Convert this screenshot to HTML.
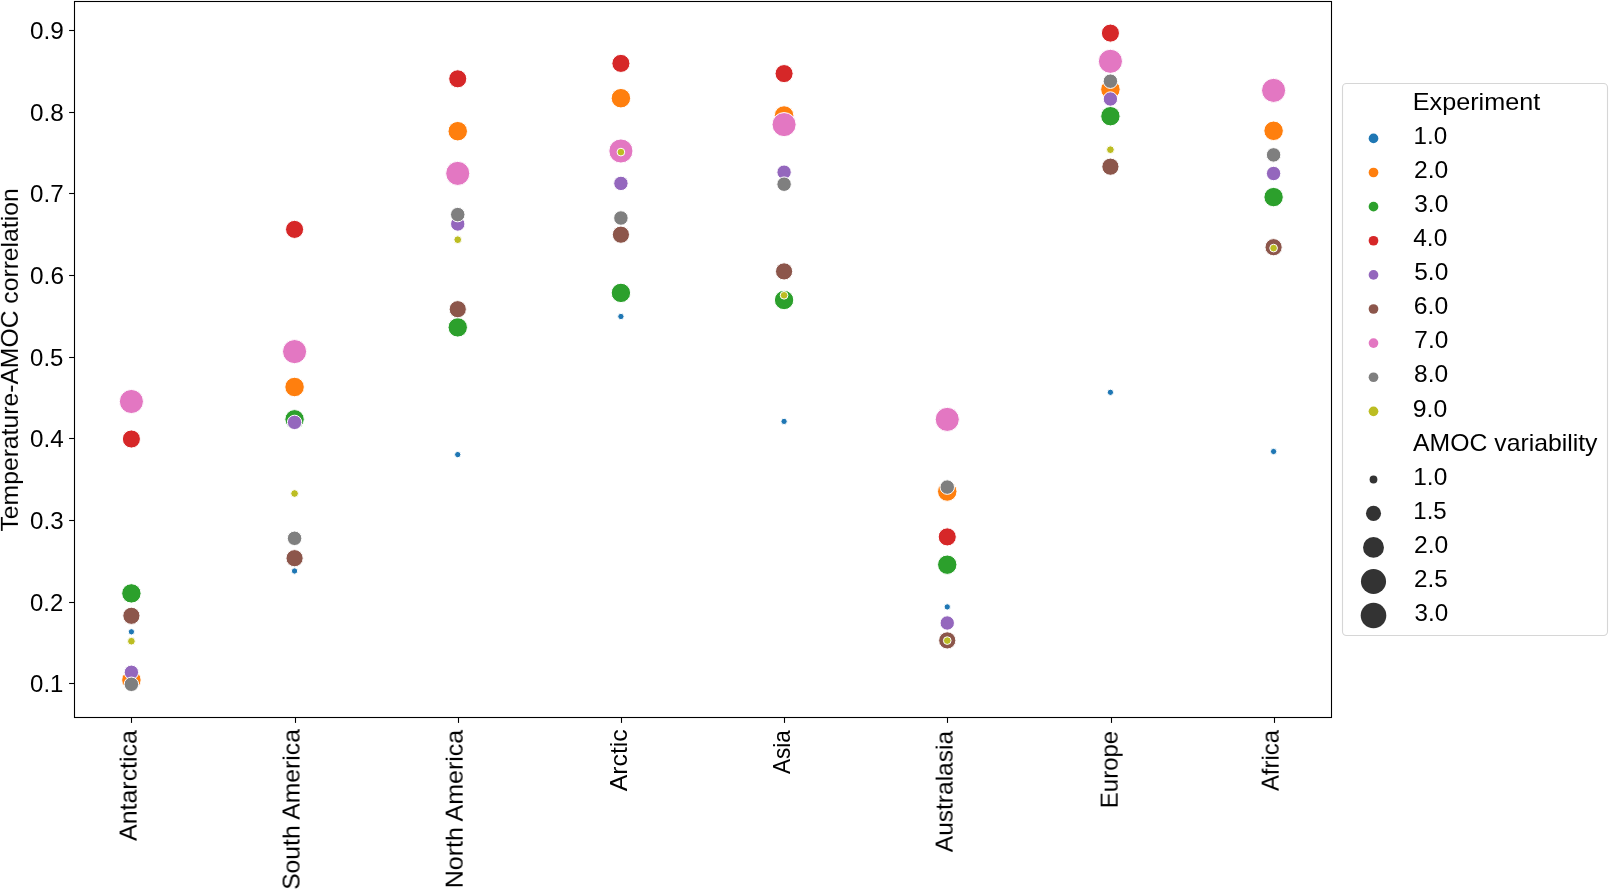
<!DOCTYPE html>
<html><head><meta charset="utf-8"><title>Temperature-AMOC correlation</title>
<style>
html,body{margin:0;padding:0;background:#fff;}
body{width:1609px;height:890px;overflow:hidden;}
svg{display:block;}
text{font-family:"Liberation Sans",sans-serif;font-size:23.4px;fill:#000;}
.t{will-change:transform;}
.r{stroke:none;}
</style></head><body>
<svg width="1609" height="890" viewBox="0 0 1609 890">
<rect x="0" y="0" width="1609" height="890" fill="#ffffff"/>

<g stroke="#ffffff" stroke-width="1.00">
<circle cx="131.40" cy="631.80" r="3.15" fill="#1f77b4"/>
<circle cx="131.40" cy="680.00" r="9.75" fill="#ff7f0e"/>
<circle cx="131.40" cy="593.40" r="9.70" fill="#2ca02c"/>
<circle cx="131.40" cy="439.00" r="9.05" fill="#d62728"/>
<circle cx="131.40" cy="672.30" r="7.20" fill="#9467bd"/>
<circle cx="131.40" cy="615.80" r="8.60" fill="#8c564b"/>
<circle cx="131.40" cy="401.50" r="12.05" fill="#e377c2"/>
<circle cx="131.40" cy="684.30" r="7.25" fill="#7f7f7f"/>
<circle cx="131.40" cy="641.20" r="3.85" fill="#bcbd22"/>
<circle cx="294.57" cy="571.00" r="3.15" fill="#1f77b4"/>
<circle cx="294.57" cy="387.00" r="9.75" fill="#ff7f0e"/>
<circle cx="294.57" cy="419.30" r="9.70" fill="#2ca02c"/>
<circle cx="294.57" cy="229.40" r="9.05" fill="#d62728"/>
<circle cx="294.57" cy="422.40" r="7.20" fill="#9467bd"/>
<circle cx="294.57" cy="558.20" r="8.60" fill="#8c564b"/>
<circle cx="294.57" cy="351.60" r="12.05" fill="#e377c2"/>
<circle cx="294.57" cy="538.30" r="7.25" fill="#7f7f7f"/>
<circle cx="294.57" cy="493.50" r="3.85" fill="#bcbd22"/>
<circle cx="457.74" cy="454.60" r="3.15" fill="#1f77b4"/>
<circle cx="457.74" cy="131.20" r="9.75" fill="#ff7f0e"/>
<circle cx="457.74" cy="327.40" r="9.70" fill="#2ca02c"/>
<circle cx="457.74" cy="78.80" r="9.05" fill="#d62728"/>
<circle cx="457.74" cy="224.00" r="7.20" fill="#9467bd"/>
<circle cx="457.74" cy="309.20" r="8.60" fill="#8c564b"/>
<circle cx="457.74" cy="173.40" r="12.05" fill="#e377c2"/>
<circle cx="457.74" cy="214.60" r="7.25" fill="#7f7f7f"/>
<circle cx="457.74" cy="239.70" r="3.85" fill="#bcbd22"/>
<circle cx="620.91" cy="316.50" r="3.15" fill="#1f77b4"/>
<circle cx="620.91" cy="98.20" r="9.75" fill="#ff7f0e"/>
<circle cx="620.91" cy="292.90" r="9.70" fill="#2ca02c"/>
<circle cx="620.91" cy="63.40" r="9.05" fill="#d62728"/>
<circle cx="620.91" cy="183.40" r="7.20" fill="#9467bd"/>
<circle cx="620.91" cy="234.70" r="8.60" fill="#8c564b"/>
<circle cx="620.91" cy="151.00" r="12.05" fill="#e377c2"/>
<circle cx="620.91" cy="218.00" r="7.25" fill="#7f7f7f"/>
<circle cx="620.91" cy="152.10" r="3.85" fill="#bcbd22"/>
<circle cx="784.08" cy="421.40" r="3.15" fill="#1f77b4"/>
<circle cx="784.08" cy="115.50" r="9.75" fill="#ff7f0e"/>
<circle cx="784.08" cy="300.00" r="9.70" fill="#2ca02c"/>
<circle cx="784.08" cy="73.60" r="9.05" fill="#d62728"/>
<circle cx="784.08" cy="172.20" r="7.20" fill="#9467bd"/>
<circle cx="784.08" cy="271.40" r="8.60" fill="#8c564b"/>
<circle cx="784.08" cy="124.60" r="12.05" fill="#e377c2"/>
<circle cx="784.08" cy="184.20" r="7.25" fill="#7f7f7f"/>
<circle cx="784.08" cy="295.30" r="3.85" fill="#bcbd22"/>
<circle cx="947.25" cy="606.90" r="3.15" fill="#1f77b4"/>
<circle cx="947.25" cy="491.50" r="9.75" fill="#ff7f0e"/>
<circle cx="947.25" cy="564.70" r="9.70" fill="#2ca02c"/>
<circle cx="947.25" cy="536.90" r="9.05" fill="#d62728"/>
<circle cx="947.25" cy="623.00" r="7.20" fill="#9467bd"/>
<circle cx="947.25" cy="640.40" r="8.60" fill="#8c564b"/>
<circle cx="947.25" cy="419.40" r="12.05" fill="#e377c2"/>
<circle cx="947.25" cy="487.10" r="7.25" fill="#7f7f7f"/>
<circle cx="947.25" cy="640.60" r="3.85" fill="#bcbd22"/>
<circle cx="1110.42" cy="392.30" r="3.15" fill="#1f77b4"/>
<circle cx="1110.42" cy="89.40" r="9.75" fill="#ff7f0e"/>
<circle cx="1110.42" cy="116.20" r="9.70" fill="#2ca02c"/>
<circle cx="1110.42" cy="33.10" r="9.05" fill="#d62728"/>
<circle cx="1110.42" cy="99.00" r="7.20" fill="#9467bd"/>
<circle cx="1110.42" cy="166.70" r="8.60" fill="#8c564b"/>
<circle cx="1110.42" cy="61.30" r="12.05" fill="#e377c2"/>
<circle cx="1110.42" cy="81.20" r="7.25" fill="#7f7f7f"/>
<circle cx="1110.42" cy="149.70" r="3.85" fill="#bcbd22"/>
<circle cx="1273.59" cy="451.50" r="3.15" fill="#1f77b4"/>
<circle cx="1273.59" cy="130.80" r="9.75" fill="#ff7f0e"/>
<circle cx="1273.59" cy="197.10" r="9.70" fill="#2ca02c"/>
<circle cx="1273.59" cy="173.50" r="7.20" fill="#9467bd"/>
<circle cx="1273.59" cy="247.20" r="8.60" fill="#8c564b"/>
<circle cx="1273.59" cy="90.40" r="12.05" fill="#e377c2"/>
<circle cx="1273.59" cy="154.90" r="7.25" fill="#7f7f7f"/>
<circle cx="1273.59" cy="248.10" r="3.85" fill="#bcbd22"/>
</g>
<rect x="74.5" y="1.5" width="1257" height="716" fill="none" stroke="#000" stroke-width="1.1"/>
<g stroke="#000" stroke-width="1.1">
<line x1="69.1" x2="74.5" y1="30.5" y2="30.5"/>
<line x1="69.1" x2="74.5" y1="112.5" y2="112.5"/>
<line x1="69.1" x2="74.5" y1="193.5" y2="193.5"/>
<line x1="69.1" x2="74.5" y1="275.5" y2="275.5"/>
<line x1="69.1" x2="74.5" y1="357.5" y2="357.5"/>
<line x1="69.1" x2="74.5" y1="438.5" y2="438.5"/>
<line x1="69.1" x2="74.5" y1="520.5" y2="520.5"/>
<line x1="69.1" x2="74.5" y1="602.5" y2="602.5"/>
<line x1="69.1" x2="74.5" y1="683.5" y2="683.5"/>
<line x1="131.5" x2="131.5" y1="717.5" y2="722.9"/>
<line x1="295.5" x2="295.5" y1="717.5" y2="722.9"/>
<line x1="458.5" x2="458.5" y1="717.5" y2="722.9"/>
<line x1="621.5" x2="621.5" y1="717.5" y2="722.9"/>
<line x1="784.5" x2="784.5" y1="717.5" y2="722.9"/>
<line x1="947.5" x2="947.5" y1="717.5" y2="722.9"/>
<line x1="1111.5" x2="1111.5" y1="717.5" y2="722.9"/>
<line x1="1274.5" x2="1274.5" y1="717.5" y2="722.9"/>
</g>
<g class="t">
<text x="30.06" y="39.00" textLength="33.85" lengthAdjust="spacingAndGlyphs">0.9</text>
<text x="30.07" y="121.00" textLength="33.80" lengthAdjust="spacingAndGlyphs">0.8</text>
<text x="30.07" y="202.00" textLength="33.57" lengthAdjust="spacingAndGlyphs">0.7</text>
<text x="30.06" y="284.00" textLength="33.94" lengthAdjust="spacingAndGlyphs">0.6</text>
<text x="30.08" y="366.00" textLength="33.31" lengthAdjust="spacingAndGlyphs">0.5</text>
<text x="30.07" y="447.00" textLength="33.72" lengthAdjust="spacingAndGlyphs">0.4</text>
<text x="30.07" y="529.00" textLength="33.53" lengthAdjust="spacingAndGlyphs">0.3</text>
<text x="30.08" y="611.00" textLength="33.22" lengthAdjust="spacingAndGlyphs">0.2</text>
<text x="30.08" y="692.00" textLength="33.37" lengthAdjust="spacingAndGlyphs">0.1</text>
<text class="r" transform="translate(136.60,0) rotate(-90)" x="-840.98" y="0" textLength="110.88" lengthAdjust="spacingAndGlyphs">Antarctica</text>
<text class="r" transform="translate(299.55,0) rotate(-90)" x="-889.89" y="0" textLength="160.79" lengthAdjust="spacingAndGlyphs">South America</text>
<text class="r" transform="translate(462.65,0) rotate(-90)" x="-888.30" y="0" textLength="158.50" lengthAdjust="spacingAndGlyphs">North America</text>
<text class="r" transform="translate(626.80,0) rotate(-90)" x="-791.30" y="0" textLength="62.05" lengthAdjust="spacingAndGlyphs">Arctic</text>
<text class="r" transform="translate(789.60,0) rotate(-90)" x="-774.10" y="0" textLength="44.00" lengthAdjust="spacingAndGlyphs">Asia</text>
<text class="r" transform="translate(952.60,0) rotate(-90)" x="-852.21" y="0" textLength="121.26" lengthAdjust="spacingAndGlyphs">Australasia</text>
<text class="r" transform="translate(1117.65,0) rotate(-90)" x="-808.15" y="0" textLength="77.32" lengthAdjust="spacingAndGlyphs">Europe</text>
<text class="r" transform="translate(1278.65,0) rotate(-90)" x="-791.10" y="0" textLength="61.00" lengthAdjust="spacingAndGlyphs">Africa</text>
<text class="r" transform="translate(17.90,0) rotate(-90)" x="-531.50" y="0" textLength="343.16" lengthAdjust="spacingAndGlyphs">Temperature-AMOC correlation</text>
</g>
<rect x="1342.5" y="83.5" width="265" height="552" rx="4" ry="4" fill="#fff" stroke="#d6d6d6" stroke-width="1.1"/>
<g class="t">
<text x="1412.83" y="110.00" textLength="127.35" lengthAdjust="spacingAndGlyphs">Experiment</text>
<text x="1413.45" y="144.00" textLength="33.69" lengthAdjust="spacingAndGlyphs">1.0</text>
<text x="1413.96" y="178.00" textLength="34.30" lengthAdjust="spacingAndGlyphs">2.0</text>
<text x="1414.27" y="212.00" textLength="33.99" lengthAdjust="spacingAndGlyphs">3.0</text>
<text x="1413.24" y="246.00" textLength="34.02" lengthAdjust="spacingAndGlyphs">4.0</text>
<text x="1414.22" y="280.00" textLength="34.04" lengthAdjust="spacingAndGlyphs">5.0</text>
<text x="1413.84" y="314.00" textLength="34.42" lengthAdjust="spacingAndGlyphs">6.0</text>
<text x="1414.35" y="348.00" textLength="33.90" lengthAdjust="spacingAndGlyphs">7.0</text>
<text x="1414.13" y="382.00" textLength="34.13" lengthAdjust="spacingAndGlyphs">8.0</text>
<text x="1412.84" y="417.00" textLength="34.43" lengthAdjust="spacingAndGlyphs">9.0</text>
<text x="1413.05" y="451.00" textLength="184.45" lengthAdjust="spacingAndGlyphs">AMOC variability</text>
<text x="1413.24" y="485.00" textLength="34.02" lengthAdjust="spacingAndGlyphs">1.0</text>
<text x="1413.27" y="519.00" textLength="33.44" lengthAdjust="spacingAndGlyphs">1.5</text>
<text x="1413.96" y="553.00" textLength="34.30" lengthAdjust="spacingAndGlyphs">2.0</text>
<text x="1413.98" y="587.00" textLength="33.74" lengthAdjust="spacingAndGlyphs">2.5</text>
<text x="1414.58" y="621.00" textLength="33.67" lengthAdjust="spacingAndGlyphs">3.0</text>
</g>
<circle cx="1373.5" cy="138.40" r="4.85" fill="#1f77b4"/>
<circle cx="1373.5" cy="172.52" r="4.85" fill="#ff7f0e"/>
<circle cx="1373.5" cy="206.64" r="4.85" fill="#2ca02c"/>
<circle cx="1373.5" cy="240.76" r="4.85" fill="#d62728"/>
<circle cx="1373.5" cy="274.88" r="4.85" fill="#9467bd"/>
<circle cx="1373.5" cy="309.00" r="4.85" fill="#8c564b"/>
<circle cx="1373.5" cy="343.12" r="4.85" fill="#e377c2"/>
<circle cx="1373.5" cy="377.24" r="4.85" fill="#7f7f7f"/>
<circle cx="1373.5" cy="411.36" r="4.85" fill="#bcbd22"/>
<circle cx="1373.5" cy="479.50" r="3.90" fill="#333333"/>
<circle cx="1373.5" cy="513.40" r="7.55" fill="#333333"/>
<circle cx="1373.5" cy="547.40" r="10.45" fill="#333333"/>
<circle cx="1373.5" cy="581.50" r="12.55" fill="#333333"/>
<circle cx="1373.5" cy="615.50" r="12.80" fill="#333333"/>
</svg></body></html>
